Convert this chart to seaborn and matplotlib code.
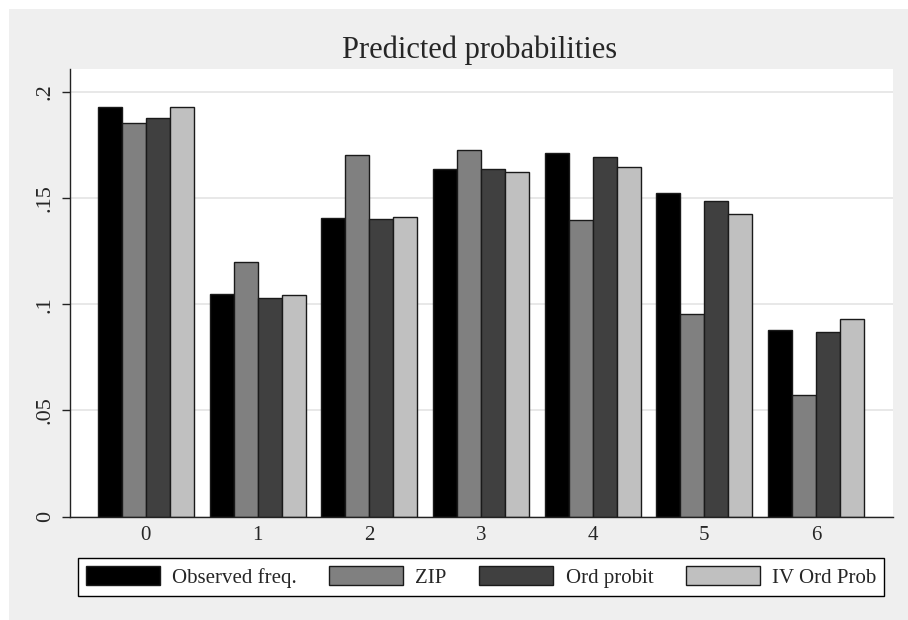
import seaborn as sb
import numpy as np
import matplotlib.pyplot as plt
import pandas as pd
from matplotlib.patches import Rectangle

# values
counts = ['0', '1', '2', '3', '4', '5', '6']
observed = [0.1931, 0.1046, 0.1406, 0.1638, 0.1711, 0.1525, 0.0877]
zip_pred = [0.1852, 0.1198, 0.1703, 0.1726, 0.1396, 0.0956, 0.0574]
ord_probit = [0.1879, 0.1028, 0.1403, 0.1636, 0.1695, 0.1487, 0.0869]
iv_ord = [0.1929, 0.1042, 0.1412, 0.1623, 0.1646, 0.1425, 0.0929]
models = ['Observed freq.', 'ZIP', 'Ord probit', 'IV Ord Prob']
colors = ['#000000', '#808080', '#404040', '#c0c0c0']
yticks = [0, 0.05, 0.1, 0.15, 0.2]
yticklabels = ['0', '.05', '.1', '.15', '.2']

df = pd.DataFrame({
    'count': counts * 4,
    'prob': observed + zip_pred + ord_probit + iv_ord,
    'model': np.repeat(models, len(counts)),
})

sb.set_style('white')
plt.rcParams['font.family'] = ['Liberation Serif', 'DejaVu Serif']

fig = plt.figure(figsize=(9.08, 6.2), dpi=100, facecolor='white')
# grey backdrop, thin white strip on top and left like the original export
fig.patches.append(Rectangle((9 / 908, 0), 1, 1 - 9 / 620, transform=fig.transFigure,
                             facecolor='#efefef', edgecolor='none', zorder=-1))
ax = fig.add_axes([70 / 908, 1 - 516.5 / 620, 823 / 908, 447.5 / 620])
ax.set_facecolor('white')

sb.barplot(data=df, x='count', y='prob', hue='model', order=counts, hue_order=models,
           palette=colors, width=0.86, edgecolor='#1a1a1a', linewidth=1.0, ax=ax)

ax.set_xlim(-0.68, 6.69)
ax.set_ylim(0, 0.2108)
ax.set_yticks(yticks)
ax.set_yticklabels(yticklabels, rotation=90, va='center')
ax.set_xlabel('')
ax.set_ylabel('')
ax.yaxis.grid(True, color='#e6e6e6', linewidth=1.3)
ax.set_axisbelow(True)
for s in ['top', 'right']:
    ax.spines[s].set_visible(False)
for s in ['left', 'bottom']:
    ax.spines[s].set_color('#222222')
    ax.spines[s].set_linewidth(1.0)
ax.tick_params(axis='y', length=6, width=1, color='#222222', labelsize=16, pad=5, left=True)
ax.tick_params(axis='x', length=0, labelsize=15, pad=7)

fig.text(480 / 908, 1 - 50.5 / 620, 'Predicted probabilities', ha='center', va='center', fontsize=22)

# legend box under the plot
handles, labels = ax.get_legend_handles_labels()
ax.legend(handles, labels, loc='upper center', bbox_to_anchor=(481 / 908, 1 - 558 / 620),
          bbox_transform=fig.transFigure, ncol=4, frameon=True, fancybox=False,
          edgecolor='black', facecolor='white', framealpha=1, fontsize=15,
          handlelength=3.55, handleheight=1.06, handletextpad=0.58, columnspacing=1.57,
          borderpad=0.38, borderaxespad=0)

fig.savefig('out.png', dpi=100, facecolor=fig.get_facecolor())
